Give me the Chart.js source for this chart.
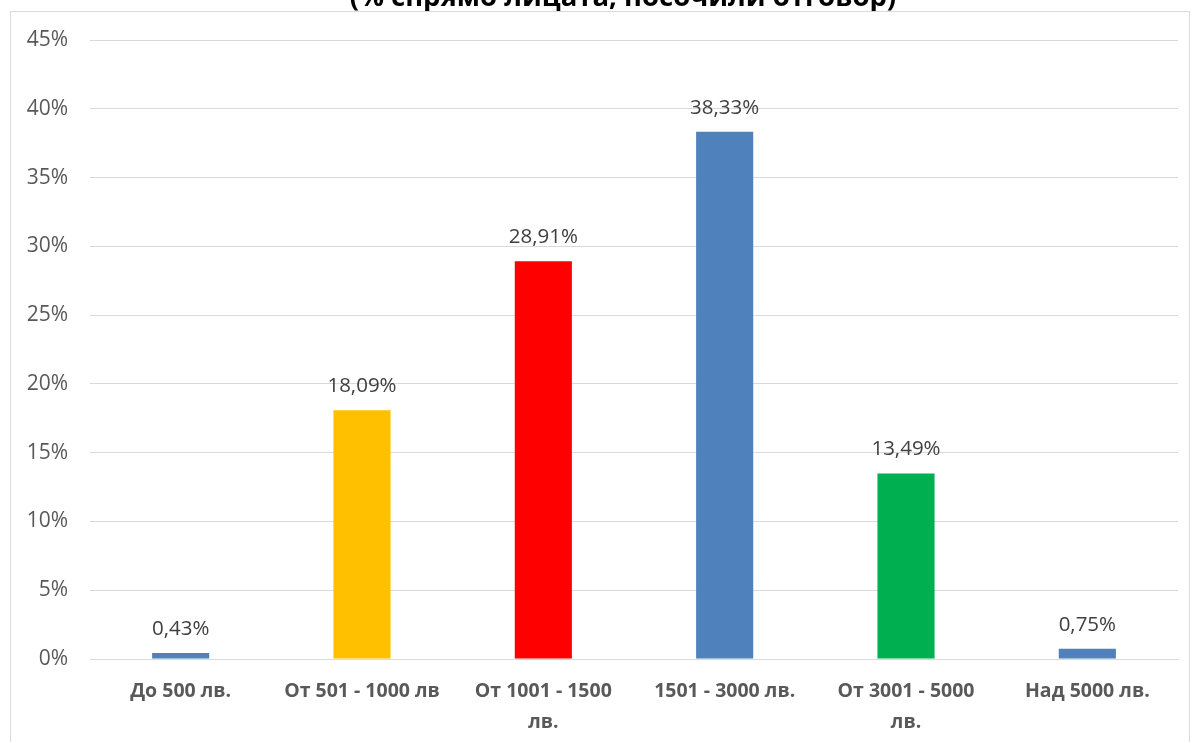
<!DOCTYPE html>
<html>
<head>
<meta charset="utf-8">
<script src="https://cdn.jsdelivr.net/npm/chart.js@4.4.0/dist/chart.umd.min.js"></script>
<style>
  html,body{margin:0;padding:0;background:#fff;overflow:hidden;}
  #wrap{position:absolute;left:0;top:0;width:1193px;height:742px;}
  #frame{position:absolute;left:10px;top:11px;width:1180px;height:740px;border:1px solid #d9d9d9;box-sizing:border-box;pointer-events:none;}
</style>
</head>
<body>
<div id="wrap"><canvas id="c" width="1193" height="742"></canvas><div id="frame"></div></div>
<script>
const categories = [
  "До 500 лв.",
  "От 501 - 1000 лв",
  ["От 1001 - 1500", "лв."],
  "1501 - 3000 лв.",
  ["От 3001 - 5000", "лв."],
  "Над 5000 лв."
];
const values = [0.43, 18.09, 28.91, 38.33, 13.49, 0.75];
const barColors = ["#4F81BD", "#FFC000", "#FF0000", "#4F81BD", "#00B050", "#4F81BD"];
const yTicks = [0, 5, 10, 15, 20, 25, 30, 35, 40, 45];
const titleText = "(% спрямо лицата, посочили отговор)";

const FONT = "'Open Sans', 'DejaVu Sans', sans-serif";

const labelPlugin = {
  id: 'valueLabels',
  afterDatasetsDraw(chart) {
    const ctx = chart.ctx;
    const meta = chart.getDatasetMeta(0);
    ctx.save();
    ctx.font = "20.5px " + FONT;
    ctx.fillStyle = "#404040";
    ctx.textAlign = "center";
    ctx.textBaseline = "middle";
    meta.data.forEach((bar, i) => {
      const txt = values[i].toFixed(2).replace('.', ',') + '%';
      ctx.fillText(txt, bar.x, bar.y - 24);
    });
    ctx.restore();
  }
};

const titlePlugin = {
  id: 'cutTitle',
  afterDraw(chart) {
    const ctx = chart.ctx;
    ctx.save();
    ctx.font = "bold 27.5px " + FONT;
    ctx.fillStyle = "#000";
    ctx.textAlign = "center";
    ctx.textBaseline = "alphabetic";
    ctx.fillText(titleText, 623, 6);
    ctx.restore();
  }
};

new Chart(document.getElementById('c'), {
  type: 'bar',
  data: {
    labels: categories,
    datasets: [{
      data: values,
      backgroundColor: barColors,
      borderWidth: 0,
      categoryPercentage: 1,
      barPercentage: 0.315
    }]
  },
  options: {
    responsive: false,
    animation: false,
    layout: { padding: { left: 0, right: 15, top: 40, bottom: 0 } },
    plugins: { legend: { display: false }, tooltip: { enabled: false }, title: { display: false } },
    scales: {
      y: {
        min: 0, max: 45,
        afterFit(scale) { scale.width = 90; },
        afterBuildTicks(scale) { scale.ticks = yTicks.map(v => ({ value: v })); },
        border: { display: false },
        grid: { color: "#d9d9d9", lineWidth: 1, drawTicks: false },
        ticks: {
          padding: 22,
          color: "#595959",
          font: { family: FONT, size: 21 },
          callback: v => v + '%'
        }
      },
      x: {
        afterFit(scale) { scale.height = 83; },
        border: { display: true, color: "#d9d9d9" },
        grid: { display: false, drawTicks: false },
        ticks: {
          padding: 16.5,
          color: "#595959",
          maxRotation: 0,
          autoSkip: false,
          font: { family: FONT, size: 19.5, weight: 'bold', lineHeight: 1.59 }
        }
      }
    }
  },
  plugins: [labelPlugin, titlePlugin]
});
</script>
</body>
</html>
